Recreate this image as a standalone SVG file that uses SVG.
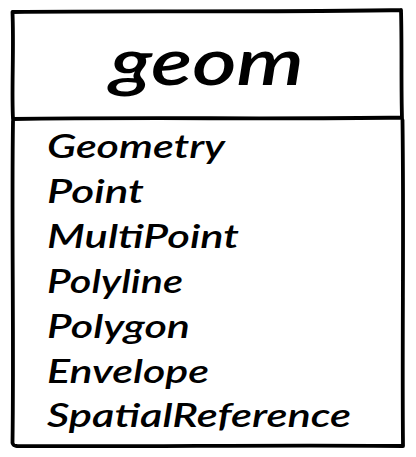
<svg xmlns="http://www.w3.org/2000/svg" width="416" height="457" viewBox="0 0 416 457">
  <style>
    .edge { fill: none; stroke: #000; stroke-width: 3.8; stroke-linecap: round; stroke-linejoin: round; }
    .title { font-family: Lato, "Open Sans", sans-serif; font-style: italic; font-weight: 600; font-size: 66px; fill: #000; }
    .member { font-family: Lato, "Open Sans", sans-serif; font-style: italic; font-weight: 600; font-size: 32px; fill: #000; }
  </style>
  <rect width="416" height="457" fill="#fff"/>
  <g id="geom">
    <!-- header compartment -->
    <path class="edge" d="M12.5 12 C 120 10.5, 260 12.5, 401 10 M401 10 C 402 45, 401 85, 402 118 M12.5 12 C 14 50, 11.5 90, 13 119 M13 119 C 140 117, 280 119.5, 402 117.5"/>
    <!-- member compartment -->
    <path class="edge" d="M13 121 C 11.5 220, 14 340, 12.5 443 M12.5 443 C 14 446, 13 445.5, 17 446 C 140 447, 280 444.5, 403 446 M403 446 C 402 340, 404 230, 402.5 120"/>
    <text class="title" x="110" y="85" textLength="194" lengthAdjust="spacingAndGlyphs">geom</text>
    <text class="member" x="47" y="158" textLength="178" lengthAdjust="spacingAndGlyphs">Geometry</text>
    <text class="member" x="47" y="203" textLength="97" lengthAdjust="spacingAndGlyphs">Point</text>
    <text class="member" x="47" y="248" textLength="192" lengthAdjust="spacingAndGlyphs">MultiPoint</text>
    <text class="member" x="47" y="293" textLength="136" lengthAdjust="spacingAndGlyphs">Polyline</text>
    <text class="member" x="47" y="338" textLength="143" lengthAdjust="spacingAndGlyphs">Polygon</text>
    <text class="member" x="47" y="383" textLength="162" lengthAdjust="spacingAndGlyphs">Envelope</text>
    <text class="member" x="47" y="427" textLength="304" lengthAdjust="spacingAndGlyphs">SpatialReference</text>
  </g>
</svg>
